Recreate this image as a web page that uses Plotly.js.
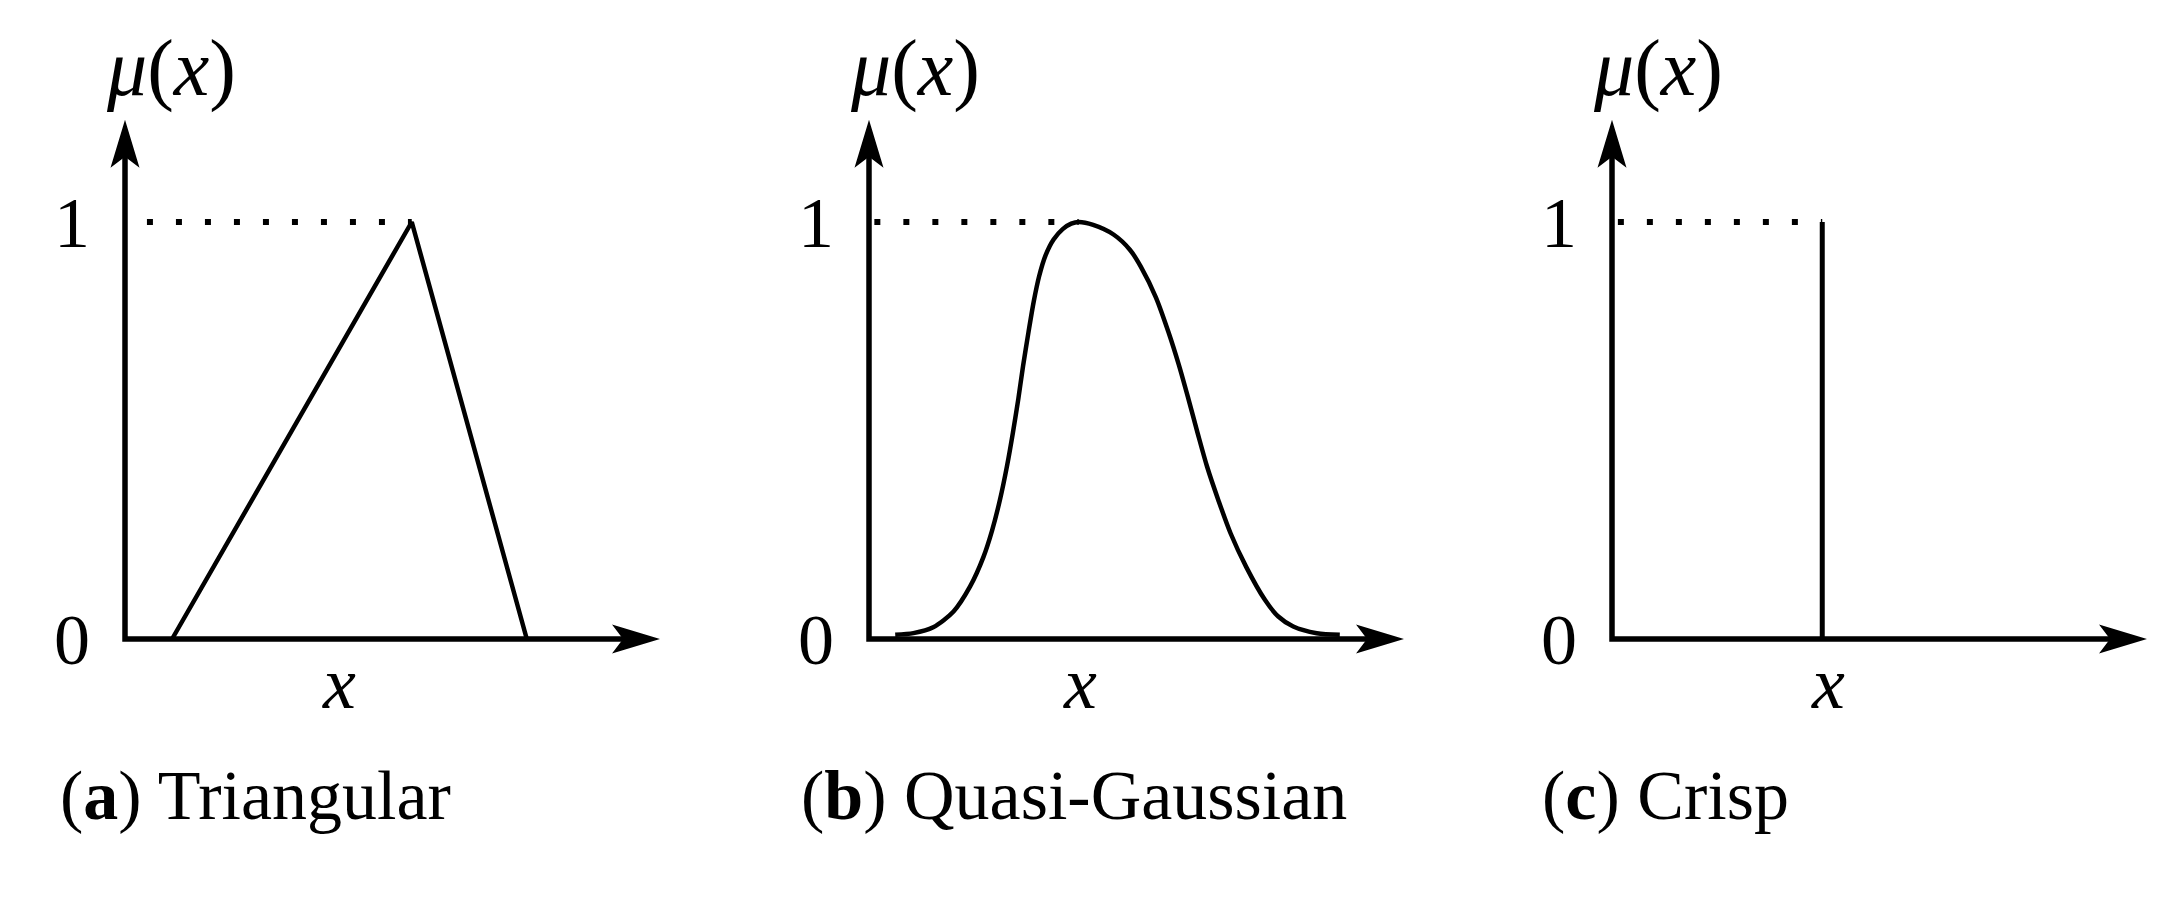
<!DOCTYPE html>
<html>
<head>
<meta charset="utf-8">
<script src="https://cdn.plot.ly/plotly-3.0.1.min.js"></script>
<style>
  html, body { margin: 0; padding: 0; background: #fff; }
  #chart { width: 2167px; height: 902px; }
</style>
</head>
<body>
<div id="chart"></div>
<script>
// ---------------- data ----------------
// (a) Triangular membership function
const triX = [0.88, 5.36, 7.51];
const triY = [0, 1, 0];

// (b) Quasi-Gaussian membership function
const gaussX = [0.49, 0.83, 1.20, 1.58, 1.89, 2.14, 2.30, 2.45, 2.58, 2.69, 2.79, 2.88, 2.98, 3.08, 3.18, 3.30, 3.45, 3.62, 3.78, 3.92,
                4.19, 4.57, 4.88, 5.08, 5.36, 5.60, 5.79, 5.97, 6.14, 6.32, 6.53, 6.76, 7.05, 7.40, 7.65, 7.93, 8.37, 8.80];
const gaussY = [0.010, 0.014, 0.028, 0.066, 0.126, 0.197, 0.260, 0.335, 0.415, 0.495, 0.575, 0.655, 0.735, 0.810, 0.870, 0.920, 0.958, 0.983, 0.996, 1.000,
                0.993, 0.970, 0.933, 0.893, 0.820, 0.735, 0.658, 0.576, 0.495, 0.413, 0.333, 0.253, 0.173, 0.094, 0.054, 0.030, 0.014, 0.010];

// (c) Crisp membership function
const crispX = [3.93, 3.93];
const crispY = [0, 1];

// dotted guide lines to mu = 1
const dotStartX = [0.41, 0.10, 0.11];
const peakX = [5.36, 3.92, 3.93];
const guideY = [1, 1];

// labels
const yTickVals = [0, 1];
const yTickText = ['0', '1'];
const xLabelX = [4.0, 3.94, 4.03];
const captions = ['(<b>a</b>) Triangular', '(<b>b</b>) Quasi-Gaussian', '(<b>c</b>) Crisp'];
const muLabel = '<i>μ</i>(<i>x</i>)';
const xLabel = '<i>x</i>';

// axis extents (data units)
const xAxisEnd = 10;
const yAxisEnd = 1.245;

// ---------------- layout geometry ----------------
const W = 2167, H = 902;
const originPx = [125, 869, 1612];
const originPy = 639;
const pxPerX = 53.5, pxPerY = 417;
const xRange = [-1, 10.3], yRange = [-0.15, 1.5];
const captionLeftPx = [58, 799, 1540];
const captionMidPy = 795;
const FONT = 'Liberation Serif, Times New Roman, serif';

const layout = {
  width: W, height: H, autosize: false,
  margin: { l: 0, r: 0, t: 0, b: 0, pad: 0 },
  paper_bgcolor: '#fff', plot_bgcolor: 'rgba(0,0,0,0)',
  showlegend: false, hovermode: false,
  shapes: [], annotations: []
};

const traces = [];
const suffix = ['', '2', '3'];

for (let i = 0; i < 3; i++) {
  const s = suffix[i];
  const xa = 'x' + s, ya = 'y' + s;
  layout['xaxis' + s] = {
    domain: [(originPx[i] + xRange[0] * pxPerX) / W, (originPx[i] + xRange[1] * pxPerX) / W],
    range: xRange.slice(), visible: false, fixedrange: true, anchor: ya
  };
  layout['yaxis' + s] = {
    domain: [(H - (originPy - yRange[0] * pxPerY)) / H, (H - (originPy - yRange[1] * pxPerY)) / H],
    range: yRange.slice(), anchor: 'free', position: originPx[i] / W,
    showline: false, showgrid: false, zeroline: false, ticks: '',
    tickmode: 'array', tickvals: yTickVals, ticktext: yTickText,
    tickfont: { family: FONT, size: 72, color: '#000' },
    ticklabelstandoff: 35, fixedrange: true
  };

  // axes with arrowheads
  layout.shapes.push({
    type: 'path', xref: xa, yref: ya, layer: 'above',
    path: `M0,${yAxisEnd - 0.06} L0,0 L${xAxisEnd - 0.56},0`,
    line: { color: '#000', width: 5.5 }
  });
  layout.shapes.push({
    type: 'path', xref: xa, yref: ya, layer: 'above',
    xsizemode: 'pixel', ysizemode: 'pixel', xanchor: xAxisEnd, yanchor: 0,
    path: 'M0,0 L-48,14.5 L-37,0 L-48,-14.5 Z',
    fillcolor: '#000', line: { width: 0 }
  });
  layout.shapes.push({
    type: 'path', xref: xa, yref: ya, layer: 'above',
    xsizemode: 'pixel', ysizemode: 'pixel', xanchor: 0, yanchor: yAxisEnd,
    path: 'M0,0 L14.5,-48 L0,-37 L-14.5,-48 Z',
    fillcolor: '#000', line: { width: 0 }
  });

  // dotted guide
  traces.push({
    x: [dotStartX[i], peakX[i]], y: guideY, xaxis: xa, yaxis: ya,
    mode: 'lines', line: { color: '#000', width: 6, dash: '6px,23px' }, hoverinfo: 'skip'
  });

  // labels
  layout.annotations.push({
    xref: xa, yref: ya, x: 0.86, y: 1.367, text: muLabel, showarrow: false,
    xanchor: 'center', yanchor: 'middle', font: { family: FONT, size: 80, color: '#000' }
  });
  layout.annotations.push({
    xref: xa, yref: ya, x: xLabelX[i], y: -0.106, text: xLabel, showarrow: false,
    xanchor: 'center', yanchor: 'middle', font: { family: FONT, size: 74, color: '#000' }
  });
  layout.annotations.push({
    xref: 'paper', yref: 'paper', x: captionLeftPx[i] / W, y: (H - captionMidPy) / H,
    text: captions[i], showarrow: false, xanchor: 'left', yanchor: 'middle',
    font: { family: FONT, size: 70, color: '#000' }
  });
}

traces.push({ x: triX, y: triY, xaxis: 'x', yaxis: 'y', mode: 'lines',
  line: { color: '#000', width: 4.5 } });
traces.push({ x: gaussX, y: gaussY, xaxis: 'x2', yaxis: 'y2', mode: 'lines',
  line: { color: '#000', width: 4.5, shape: 'spline', smoothing: 0.8 } });
traces.push({ x: crispX, y: crispY, xaxis: 'x3', yaxis: 'y3', mode: 'lines',
  line: { color: '#000', width: 5 } });

Plotly.newPlot('chart', traces, layout, { staticPlot: true, displayModeBar: false });
</script>
</body>
</html>
